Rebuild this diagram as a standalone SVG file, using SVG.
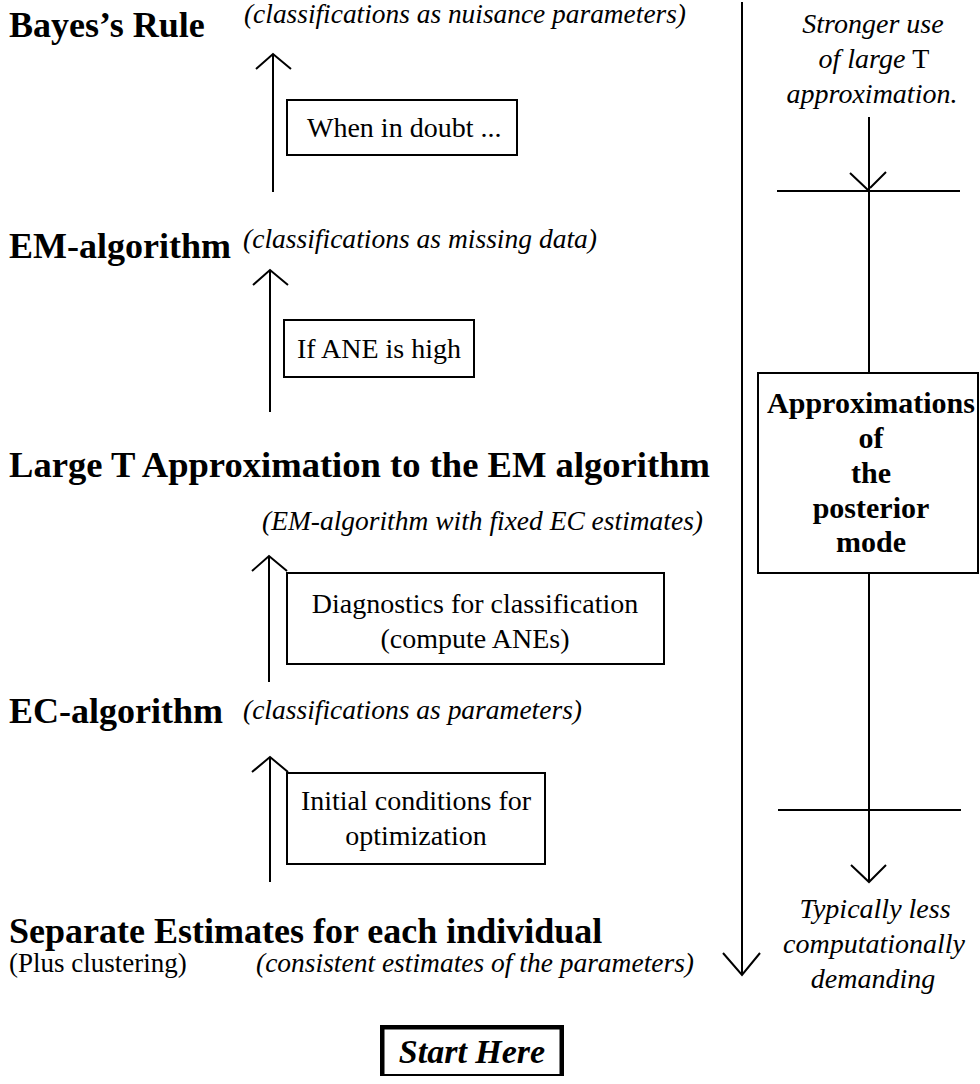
<svg xmlns="http://www.w3.org/2000/svg" width="980" height="1084" viewBox="0 0 980 1084">
<style>
.h{font-family:"Liberation Serif",serif;font-weight:bold;font-size:36px;fill:#000}
.s{font-family:"Liberation Serif",serif;font-style:italic;font-size:27px;fill:#000}
.b{font-family:"Liberation Serif",serif;font-size:28px;fill:#000}
.c{text-anchor:middle}
.r{font-family:"Liberation Serif",serif;font-style:italic;font-size:28px;fill:#000;text-anchor:middle}
.rb{font-family:"Liberation Serif",serif;font-weight:bold;font-size:30px;fill:#000;text-anchor:middle}
.ln{stroke:#000;stroke-width:2;fill:none}
.box{stroke:#000;stroke-width:2;fill:#fff}
</style>
<rect width="980" height="1084" fill="#fff"/>
<g id="connectors">
  <path class="ln" d="M273,192 V54 M256,69 L273,54 L291,69"/>
  <path class="ln" d="M270,412 V270 M253,285 L270,270 L288,285"/>
  <path class="ln" d="M269,682 V556 M252,571 L269,556 L287,571"/>
  <path class="ln" d="M270,882 V757 M252,772 L270,757 L288,772"/>
  <path class="ln" d="M742,2 V975 M723,953 L742,975 L760,953"/>
  <path class="ln" stroke-width="2.5" d="M869,117 V373 M869,573 V882 M851,865 L869,882 L886,865"/>
  <path class="ln" stroke-width="2.5" d="M777,191 H960 M850,173 L868,190 M886,172 L870,188"/>
  <path class="ln" stroke-width="2.5" d="M778,810 H961"/>
</g>
<g id="bayes">
  <text class="h" x="9" y="37">Bayes’s Rule</text>
  <text class="s" x="244" y="23" textLength="442" lengthAdjust="spacingAndGlyphs">(classifications as nuisance parameters)</text>
</g>
<g id="doubt">
  <rect class="box" x="287" y="100" width="230" height="55"/>
  <text class="b" x="307" y="137">When in doubt ...</text>
</g>
<g id="em">
  <text class="h" x="9" y="258">EM-algorithm</text>
  <text class="s" x="243" y="248" textLength="354" lengthAdjust="spacingAndGlyphs">(classifications as missing data)</text>
</g>
<g id="ane">
  <rect class="box" x="284" y="320" width="190" height="57"/>
  <text class="b c" x="379" y="358">If ANE is high</text>
</g>
<g id="largeT">
  <text class="h" x="9" y="477" textLength="701" lengthAdjust="spacingAndGlyphs">Large T Approximation to the EM algorithm</text>
  <text class="s" x="262" y="530" textLength="441" lengthAdjust="spacingAndGlyphs">(EM-algorithm with fixed EC estimates)</text>
</g>
<g id="diag">
  <rect class="box" x="287" y="573" width="377" height="91"/>
  <text class="b c" x="475" y="613">Diagnostics for classification</text>
  <text class="b c" x="475" y="648">(compute ANEs)</text>
</g>
<g id="ec">
  <text class="h" x="9" y="723">EC-algorithm</text>
  <text class="s" x="243" y="719" textLength="339" lengthAdjust="spacingAndGlyphs">(classifications as parameters)</text>
</g>
<g id="init">
  <rect class="box" x="287" y="773" width="258" height="91"/>
  <text class="b c" x="416" y="810">Initial conditions for</text>
  <text class="b c" x="416" y="845">optimization</text>
</g>
<g id="separate">
  <text class="h" x="9" y="943">Separate Estimates for each individual</text>
  <text class="b" x="9" y="972" style="font-size:27px">(Plus clustering)</text>
  <text class="s" x="256" y="972" textLength="438" lengthAdjust="spacingAndGlyphs">(consistent estimates of the parameters)</text>
</g>
<g id="start">
  <rect x="381" y="1026" width="182" height="49" fill="#fff" stroke="#000" stroke-width="2"/>
  <path d="M381,1027.5 H563 M382.5,1026 V1075 M561.5,1026 V1075" stroke="#000" stroke-width="4" fill="none"/>
  <text x="472" y="1063" text-anchor="middle" style="font-family:'Liberation Serif',serif;font-style:italic;font-weight:bold;font-size:34px">Start Here</text>
</g>
<g id="stronger">
  <text class="r" x="873" y="33">Stronger use</text>
  <text class="r" x="874" y="68">of large <tspan font-style="normal">T</tspan></text>
  <text class="r" x="872" y="103">approximation.</text>
</g>
<g id="approx">
  <rect class="box" x="758" y="373" width="220" height="200"/>
  <text class="rb" x="871" y="413">Approximations</text>
  <text class="rb" x="871" y="448">of</text>
  <text class="rb" x="871" y="483">the</text>
  <text class="rb" x="871" y="518">posterior</text>
  <text class="rb" x="871" y="552">mode</text>
</g>
<g id="typically">
  <text class="r" x="875" y="918">Typically less</text>
  <text class="r" x="874" y="953">computationally</text>
  <text class="r" x="873" y="988">demanding</text>
</g>
</svg>
